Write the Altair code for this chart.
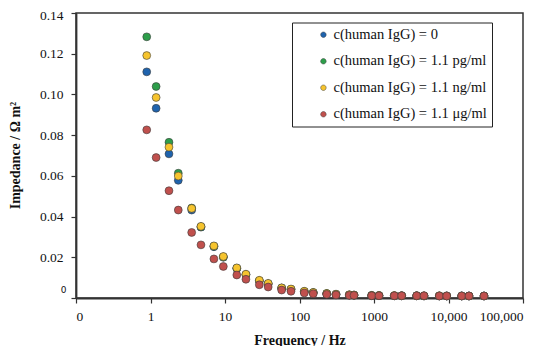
import altair as alt
import pandas as pd

freq = [0.89, 1.19, 1.77, 2.36, 3.57, 4.76, 7.1, 9.5, 14.4, 19.1, 28.9, 38, 57.6, 76.9,
        116, 153, 232, 309, 466, 539, 931, 1167, 1873, 2353, 3741, 4690, 7530, 9460,
        15030, 18840, 29970]

blue = [0.1111, 0.0932, 0.0708, 0.0578, 0.0432, 0.0348, 0.0252, 0.0200, 0.0145, 0.0114,
        0.0084, 0.0069, 0.0048, 0.0042, 0.0031, 0.0026, 0.0021, 0.0018, 0.0015, 0.0014,
        0.0012, 0.0012, 0.0011, 0.0011, 0.0011, 0.0010, 0.0010, 0.0010, 0.0010, 0.0010, 0.0010]
green = [0.1283, 0.1039, 0.0765, 0.0613, 0.0442, 0.0350, 0.0254, 0.0202, 0.0146, 0.0115,
         0.0085, 0.0070, 0.0049, 0.0043, 0.0032, 0.0027, 0.0022, 0.0018, 0.0015, 0.0014,
         0.0012, 0.0012, 0.0011, 0.0011, 0.0011, 0.0010, 0.0010, 0.0010, 0.0010, 0.0010, 0.0010]
yellow = [0.1191, 0.0985, 0.0741, 0.0599, 0.0440, 0.0352, 0.0256, 0.0204, 0.0148, 0.0117,
          0.0087, 0.0072, 0.0050, 0.0044, 0.0033, 0.0027, 0.0022, 0.0019, 0.0016, 0.0015,
          0.0013, 0.0012, 0.0012, 0.0011, 0.0011, 0.0011, 0.0011, 0.0010, 0.0010, 0.0010, 0.0010]
red = [0.0826, 0.0690, 0.0527, 0.0432, 0.0322, 0.0261, 0.0192, 0.0155, 0.0113, 0.0092,
       0.0065, 0.0054, 0.0039, 0.0033, 0.0025, 0.0021, 0.0018, 0.0015, 0.0013, 0.0013,
       0.0011, 0.0011, 0.0011, 0.0011, 0.0011, 0.0011, 0.0010, 0.0010, 0.0010, 0.0010, 0.0010]

series_names = ["c(human IgG) = 0", "c(human IgG) = 1.1 pg/ml",
                "c(human IgG) = 1.1 ng/ml", "c(human IgG) = 1.1 \u03bcg/ml"]
series_values = [blue, green, yellow, red]
colors = ["#1f63ad", "#2d9e4a", "#f6c42e", "#c0504d"]

x_ticks = [0.1, 1, 10, 100, 1000, 10000, 100000]
y_ticks = [0, 0.02, 0.04, 0.06, 0.08, 0.10, 0.12, 0.14]

rows = []
for name, vals in zip(series_names, series_values):
    for f, v in zip(freq, vals):
        rows.append({"freq": f, "imp": v, "series": name})
df = pd.DataFrame(rows)

serif = "Liberation Serif"
# legend circle drawn shifted to the right inside the legend box
legend_symbol = "M 6,0 A 1,1 0 1,1 8,0 A 1,1 0 1,1 6,0 Z"

chart = alt.Chart(df).mark_point(
    filled=True, size=62, stroke="#3a3a3a", strokeWidth=0.6, opacity=1
).encode(
    x=alt.X("freq:Q",
            scale=alt.Scale(type="log", domain=[0.1, 100000]),
            axis=alt.Axis(
                title="Frequency / Hz", values=x_ticks,
                labelExpr="datum.value < 0.5 ? '0' : datum.value >= 10000 ? format(datum.value, ',') : format(datum.value, 'd')",
                grid=False, tickSize=5, labelPadding=6,
                titleY=42, titleBaseline="middle",
            )),
    y=alt.Y("imp:Q",
            scale=alt.Scale(domain=[0, 0.14], nice=False),
            axis=alt.Axis(
                title="Impedance / \u03a9 m\u00b2", values=y_ticks,
                labelExpr="datum.value == 0 ? '0' : format(datum.value, '.2f')",
                labelFontSize={"condition": {"test": "datum.value == 0", "value": 9}, "value": 13.5},
                labelFont={"condition": {"test": "datum.value == 0", "value": "DejaVu Sans"}, "value": serif},
                labelAlign={"condition": {"test": "datum.value == 0", "value": "center"}, "value": "right"},
                labelOffset={"condition": [{"test": "datum.value == 0", "value": -9},
                                           {"test": "datum.value > 0.135", "value": 2}], "value": 0},
                grid=False, tickSize=5, labelPadding=8,
                titleX=-61, titleY=142, titleBaseline="middle",
            )),
    color=alt.Color("series:N",
                    scale=alt.Scale(domain=series_names, range=colors),
                    legend=alt.Legend(
                        title=None, orient="none", legendX=216, legendY=9.5,
                        strokeColor="#222", padding=5,
                        symbolType=legend_symbol, labelOffset=22, labelLimit=400,
                        labelExpr="datum.label + '\u00a0\u00a0\u00a0\u00a0\u00a0\u00a0'",
                        rowPadding=11.5, symbolSize=30, symbolStrokeColor="#3a3a3a",
                        symbolStrokeWidth=0.5, labelFontSize=14.5, labelFont=serif,
                        labelColor="#111",
                    )),
).properties(
    width=447, height=285,
    padding={"left": 68, "top": 5, "right": 19, "bottom": 48},
    autosize=alt.AutoSizeParams(type="none"),
).configure_view(
    stroke="#333", strokeWidth=1.5
).configure_axis(
    domainColor="#333", domainWidth=1.8, tickColor="#333", tickWidth=1.2,
    labelFont=serif, labelFontSize=13.5, labelColor="#111",
    titleFont=serif, titleFontSize=14, titleFontWeight="bold", titleColor="#111",
)

chart.save("out.html", embed_options={"renderer": "svg", "actions": False})
